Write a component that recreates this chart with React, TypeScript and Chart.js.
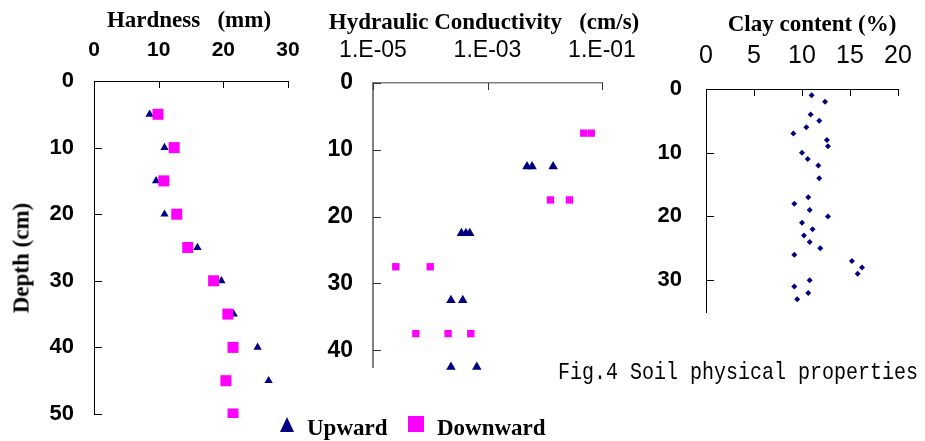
import React, { useEffect, useRef, useState } from "react";
import { Chart, registerables } from "chart.js";

Chart.register(...registerables);

// ---------- Data ----------
// Panel 1: Hardness (mm) vs depth (cm)
const hardnessUpDepth = [5, 10, 15, 20, 25, 30, 35, 40, 45];
const hardnessUpValue = [8.6, 10.9, 9.6, 10.9, 16.0, 19.7, 21.6, 25.3, 27.0];
const hardnessDownDepth = [5, 10, 15, 20, 25, 30, 35, 40, 45, 50];
const hardnessDownValue = [9.9, 12.4, 10.8, 12.8, 14.5, 18.5, 20.7, 21.5, 20.4, 21.5];
const hardnessXTicks = [0, 10, 20, 30];
const hardnessYTicks = [0, 10, 20, 30, 40, 50];

// Panel 2: Hydraulic conductivity (cm/s, log) vs depth (cm)
const hcUpDepth = [12.5, 12.5, 12.5, 22.5, 22.5, 22.5, 32.5, 32.5, 42.5, 42.5];
const hcUpValue = [0.0049, 0.006, 0.014, 0.00035, 0.00042, 0.00049, 0.00023, 0.00037, 0.00023, 0.00065];
const hcDownDepth = [7.5, 7.5, 17.5, 17.5, 27.5, 27.5, 37.5, 37.5, 37.5];
const hcDownValue = [0.048, 0.065, 0.0126, 0.027, 0.000025, 0.0001, 0.000056, 0.000205, 0.00051];
const hcXTickValues = [1e-5, 1e-3, 1e-1];
const hcXTickLabels = ["1.E-05", "1.E-03", "1.E-01"];
const hcYTicks = [0, 10, 20, 30, 40];

// Panel 3: Clay content (%) vs depth (cm)
const clayDepth = [1, 2, 4, 5, 6, 7, 8, 9, 10, 11, 12, 14, 17, 18, 19, 20, 21, 22, 23, 24, 25, 26, 27, 28, 29, 30, 31, 32, 33];
const clayValue = [11.0, 12.4, 10.9, 11.8, 10.45, 9.1, 12.6, 12.7, 10.0, 10.6, 11.7, 11.8, 10.65, 9.2, 10.8, 12.7, 10.0, 11.1, 10.2, 10.8, 11.9, 9.2, 15.2, 16.25, 15.8, 10.8, 9.2, 10.65, 9.5];
const clayXTicks = [0, 5, 10, 15, 20];
const clayYTicks = [0, 10, 20, 30];

// ---------- Styles ----------
const NAVY = "#000080";
const MAGENTA = "#FF00FF";
const SANS = "'Liberation Sans', Arial, sans-serif";
const SERIF = "'Liberation Serif', 'Times New Roman', serif";

type Box = { left: number; top: number; width: number; height: number };
type Area = { l: number; t: number; r: number; b: number };
type TickStyle = { xLen: number; yLen: number; color: string };
type TickGeom = { top: number; left: number; xs: number[]; ys: number[] };

const pts = (xs: number[], ys: number[]) => xs.map((x, i) => ({ x, y: ys[i] }));

function axisCommon(borderColor: string, borderWidth: number, pad: number, font: any) {
  return {
    grid: { display: false, drawOnChartArea: false, drawTicks: false, tickLength: 0 },
    border: { display: true, color: borderColor, width: borderWidth },
    ticks: { autoSkip: false, maxRotation: 0, minRotation: 0, padding: pad, font, color: "#000" },
  };
}

function buildOptions(box: Box, area: Area, x: any, y: any) {
  return {
    responsive: false,
    animation: false,
    layout: {
      padding: {
        left: 0,
        top: 0,
        right: box.width - (area.r - box.left),
        bottom: box.height - (area.b - box.top),
      },
    },
    plugins: {
      legend: { display: false },
      tooltip: { enabled: false },
    },
    scales: {
      x: {
        ...x,
        position: "top",
        afterFit: (s: any) => {
          s.height = area.t - box.top;
          s.paddingLeft = 0;
          s.paddingRight = 0;
        },
      },
      y: {
        ...y,
        position: "left",
        reverse: true,
        afterFit: (s: any) => {
          s.width = area.l - box.left;
          s.paddingTop = 0;
          s.paddingBottom = 0;
        },
      },
    },
  };
}

const setTicks = (vals: number[]) => (s: any) => {
  s.ticks = vals.map((v) => ({ value: v }));
};

const box1: Box = { left: 0, top: 0, width: 330, height: 441 };
const area1: Area = { l: 94, t: 81, r: 288, b: 414 };
const box2: Box = { left: 300, top: 0, width: 340, height: 441 };
const area2: Area = { l: 373, t: 83, r: 602, b: 367 };
const box3: Box = { left: 640, top: 0, width: 285, height: 441 };
const area3: Area = { l: 706, t: 89, r: 898, b: 312 };

const ticks1: TickStyle = { xLen: 7, yLen: 8, color: "#000" };
const ticks2: TickStyle = { xLen: 7, yLen: 8, color: "#333" };
const ticks3: TickStyle = { xLen: 7, yLen: 8, color: "#000" };

function config1() {
  const xa = axisCommon("#000", 1, 18, { family: SANS, size: 21, weight: "bold" });
  const ya = axisCommon("#000", 1, 20, { family: SANS, size: 22, weight: "bold" });
  return {
    type: "scatter",
    data: {
      datasets: [
        {
          label: "Upward",
          data: pts(hardnessUpValue, hardnessUpDepth),
          pointStyle: "triangle",
          pointRadius: 4.8,
          backgroundColor: NAVY,
          borderColor: NAVY,
          borderWidth: 0,
          order: 1,
          clip: 10,
        },
        {
          label: "Downward",
          data: pts(hardnessDownValue, hardnessDownDepth),
          pointStyle: "rect",
          pointRadius: 7.8,
          backgroundColor: MAGENTA,
          borderColor: MAGENTA,
          borderWidth: 0,
          order: 0,
          clip: { left: 10, top: 10, right: 10, bottom: 4 },
        },
      ],
    },
    options: buildOptions(
      box1,
      area1,
      { ...xa, type: "linear", min: 0, max: 30, afterBuildTicks: setTicks(hardnessXTicks) },
      { ...ya, type: "linear", min: 0, max: 50, afterBuildTicks: setTicks(hardnessYTicks) }
    ),
  };
}

function config2() {
  const xa = axisCommon("#7f7f7f", 1.5, 19, { family: SANS, size: 23 });
  const ya = axisCommon("#7f7f7f", 2, 20, { family: SANS, size: 23, weight: "bold" });
  return {
    type: "scatter",
    data: {
      datasets: [
        {
          label: "Upward",
          data: pts(hcUpValue, hcUpDepth),
          pointStyle: "triangle",
          pointRadius: 5.5,
          backgroundColor: NAVY,
          borderColor: NAVY,
          borderWidth: 0,
          clip: 10,
        },
        {
          label: "Downward",
          data: pts(hcDownValue, hcDownDepth),
          pointStyle: "rect",
          pointRadius: 5.2,
          backgroundColor: MAGENTA,
          borderColor: MAGENTA,
          borderWidth: 0,
          clip: 10,
        },
      ],
    },
    options: buildOptions(
      box2,
      area2,
      {
        ...xa,
        type: "logarithmic",
        min: 1e-5,
        max: 1e-1,
        afterBuildTicks: setTicks(hcXTickValues),
        ticks: { ...xa.ticks, callback: (_v: any, i: number) => hcXTickLabels[i] },
      },
      { ...ya, type: "linear", min: 0, max: 42.5, afterBuildTicks: setTicks(hcYTicks) }
    ),
  };
}

function config3() {
  const xa = axisCommon("#000", 1, 18, { family: SANS, size: 25 });
  const ya = axisCommon("#000", 1, 24, { family: SANS, size: 22, weight: "bold" });
  return {
    type: "scatter",
    data: {
      datasets: [
        {
          label: "Clay content",
          data: pts(clayValue, clayDepth),
          pointStyle: "rectRot",
          pointRadius: 3,
          backgroundColor: NAVY,
          borderColor: NAVY,
          borderWidth: 0,
          clip: 10,
        },
      ],
    },
    options: buildOptions(
      box3,
      area3,
      { ...xa, type: "linear", min: 0, max: 20, afterBuildTicks: setTicks(clayXTicks) },
      { ...ya, type: "linear", min: 0, max: 35, afterBuildTicks: setTicks(clayYTicks) }
    ),
  };
}

// Reads tick pixel positions from the chart's own scales
function readTickGeom(chart: any): TickGeom | null {
  if (!chart || !chart.chartArea || !chart.scales || !chart.scales.x || !chart.scales.y) return null;
  const sx = chart.scales.x;
  const sy = chart.scales.y;
  return {
    top: Math.round(chart.chartArea.top),
    left: Math.round(chart.chartArea.left),
    xs: (sx.ticks || []).map((t: any) => Math.round(sx.getPixelForValue(t.value))).filter((v: number) => isFinite(v)),
    ys: (sy.ticks || []).map((t: any) => Math.round(sy.getPixelForValue(t.value))).filter((v: number) => isFinite(v)),
  };
}

function Panel({ box, make, tickStyle }: { box: Box; make: () => any; tickStyle: TickStyle }) {
  const ref = useRef<HTMLCanvasElement>(null);
  const [geom, setGeom] = useState<TickGeom | null>(null);
  useEffect(() => {
    const chart = new Chart(ref.current as HTMLCanvasElement, make());
    setGeom(readTickGeom(chart));
    return () => chart.destroy();
  }, []);
  return (
    <div style={{ position: "absolute", left: box.left, top: box.top, width: box.width, height: box.height }}>
      <canvas
        ref={ref}
        width={box.width}
        height={box.height}
        style={{ position: "absolute", left: 0, top: 0, width: box.width, height: box.height }}
      />
      {geom &&
        geom.xs.map((x, i) => (
          <div
            key={"tx" + i}
            style={{ position: "absolute", left: x, top: geom.top, width: 1, height: tickStyle.xLen, background: tickStyle.color }}
          />
        ))}
      {geom &&
        geom.ys.map((y, i) => (
          <div
            key={"ty" + i}
            style={{ position: "absolute", left: geom.left, top: y, width: tickStyle.yLen, height: 1, background: tickStyle.color }}
          />
        ))}
    </div>
  );
}

function Label({ x, y, text, style }: { x: number; y: number; text: string; style?: any }) {
  return (
    <div
      style={{
        position: "absolute",
        left: x,
        top: y,
        transform: "translate(-50%, -50%)",
        whiteSpace: "pre",
        lineHeight: 1,
        fontFamily: SERIF,
        fontWeight: "bold",
        fontSize: 23,
        color: "#000",
        ...style,
      }}
    >
      {text}
    </div>
  );
}

export default function App() {
  useEffect(() => {
    document.body.style.margin = "0";
  }, []);
  return (
    <div style={{ position: "fixed", left: 0, top: 0, width: 925, height: 441, background: "#fff", overflow: "hidden" }}>
      <Panel box={box1} make={config1} tickStyle={ticks1} />
      <Panel box={box2} make={config2} tickStyle={ticks2} />
      <Panel box={box3} make={config3} tickStyle={ticks3} />

      <Label x={189} y={19} text={"Hardness   (mm)"} />
      <Label x={484} y={21} text={"Hydraulic Conductivity   (cm/s)"} />
      <Label x={812} y={23} text={"Clay content (%)"} />
      <Label x={21} y={258} text={"Depth (cm)"} style={{ transform: "translate(-50%, -50%) rotate(-90deg)" }} />

      {/* legend */}
      <div
        style={{
          position: "absolute",
          left: 280,
          top: 417,
          width: 0,
          height: 0,
          borderLeft: "7.5px solid transparent",
          borderRight: "7.5px solid transparent",
          borderBottom: "15px solid " + NAVY,
        }}
      />
      <div
        style={{
          position: "absolute",
          left: 307,
          top: 427,
          transform: "translateY(-50%)",
          fontFamily: SERIF,
          fontWeight: "bold",
          fontSize: 23,
          lineHeight: 1,
        }}
      >
        Upward
      </div>
      <div style={{ position: "absolute", left: 408, top: 416, width: 16, height: 16, background: MAGENTA }} />
      <div
        style={{
          position: "absolute",
          left: 437,
          top: 427,
          transform: "translateY(-50%)",
          fontFamily: SERIF,
          fontWeight: "bold",
          fontSize: 23,
          lineHeight: 1,
        }}
      >
        Downward
      </div>

      {/* caption */}
      <div
        style={{
          position: "absolute",
          left: 558,
          top: 373,
          transform: "translateY(-50%) scaleY(1.2)",
          fontFamily: "'Liberation Mono', 'DejaVu Sans Mono', monospace",
          fontSize: 20,
          lineHeight: 1,
          whiteSpace: "pre",
          color: "#000",
        }}
      >
        Fig.4 Soil physical properties
      </div>
    </div>
  );
}
